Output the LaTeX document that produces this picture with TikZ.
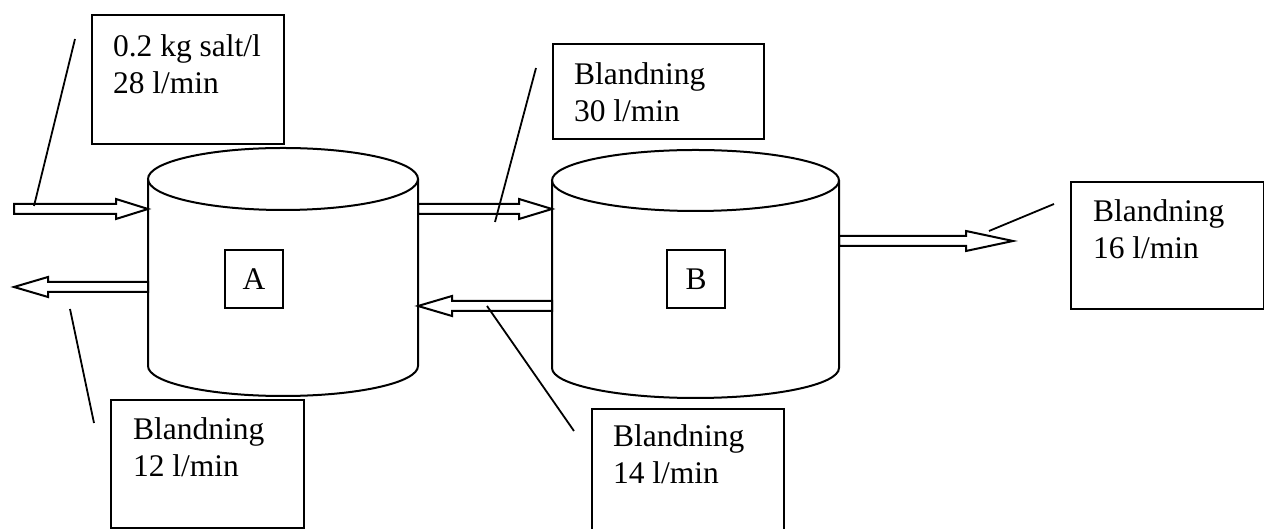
\documentclass[tikz,border=0pt]{standalone}
\usepackage{fontspec}
\setmainfont{Liberation Serif}
\usetikzlibrary{calc}
\newcommand\flowarr[3]{%
  \draw[flow] ($(#1)+(0,5)$) -- ($(#2)+(#3,5)$) -- ($(#2)+(#3,10)$) -- (#2)
    -- ($(#2)+(#3,-10)$) -- ($(#2)+(#3,-5)$) -- ($(#1)+(0,-5)$) -- cycle;}
\begin{document}
\begin{tikzpicture}[x=1pt,y=1pt, line width=2pt,
  lbox/.style={draw, rectangle, inner sep=0pt, anchor=north west},
  ltext/.style={anchor=north west, inner sep=0pt, align=left, font=\fontsize{31.5}{37}\selectfont},
  tag/.style={draw, minimum width=58pt, minimum height=58pt, inner sep=0pt, font=\fontsize{31.5}{37}\selectfont},
  leader/.style={line width=1.8pt},
  flow/.style={line width=2pt},
  tank/.style={line width=2pt}]
\useasboundingbox (0,0) rectangle (1264,529);
\clip (-1,-1) rectangle (1265,530);

% tanks
\draw[tank] (283,350) ellipse [x radius=135pt, y radius=31pt];
\draw[tank] (148,350) -- (148,163) arc[start angle=180, end angle=360, x radius=135pt, y radius=30pt] -- (418,350);
\draw[tank] (695.5,348.5) ellipse [x radius=143.5pt, y radius=30.5pt];
\draw[tank] (552,348.5) -- (552,161) arc[start angle=180, end angle=360, x radius=143.5pt, y radius=30pt] -- (839,348.5);
\node[tag] (tagA) at (254,250) {A};
\node[tag] (tagB) at (696,250) {B};

% label boxes
\node[lbox, minimum width=192pt, minimum height=129pt] (b1) at (91,515) {};
\node[ltext] (t1) at (112,495) {0.2 kg salt/l\\28 l/min};
\node[lbox, minimum width=211pt, minimum height=95pt] (b30) at (552,486) {};
\node[ltext] (t30) at (573,467) {Blandning\\30 l/min};
\node[lbox, minimum width=193pt, minimum height=127pt] (b16) at (1070,348) {};
\node[ltext] (t16) at (1092,330) {Blandning\\16 l/min};
\node[lbox, minimum width=193pt, minimum height=128pt] (b12) at (110,130) {};
\node[ltext] (t12) at (132,112) {Blandning\\12 l/min};
\node[lbox, minimum width=192pt, minimum height=140pt] (b14) at (591,121) {};
\node[ltext] (t14) at (612,105) {Blandning\\14 l/min};

% flow arrows
\coordinate (inS) at (14,320);   \coordinate (inT) at (148,320);
\coordinate (abS) at (418,320);  \coordinate (abT) at (552,320);
\coordinate (baS) at (552,223);  \coordinate (baT) at (418,223);
\coordinate (aoS) at (148,242);  \coordinate (aoT) at (14,242);
\coordinate (boS) at (839,288);  \coordinate (boT) at (1013,288);
\flowarr{inS}{inT}{-32}
\flowarr{abS}{abT}{-33}
\flowarr{baS}{baT}{34}
\flowarr{aoS}{aoT}{34}
\flowarr{boS}{boT}{-47}

% leader lines
\coordinate (l1a) at (75,490);   \coordinate (l1b) at (34,323);
\coordinate (l12a) at (70,220);  \coordinate (l12b) at (94,106);
\coordinate (l30a) at (536,461); \coordinate (l30b) at (495,307);
\coordinate (l14a) at (487,223); \coordinate (l14b) at (574,98);
\coordinate (l16a) at (989,298); \coordinate (l16b) at (1054,325);
\draw[leader] (l1a) -- (l1b);
\draw[leader] (l12a) -- (l12b);
\draw[leader] (l30a) -- (l30b);
\draw[leader] (l14a) -- (l14b);
\draw[leader] (l16a) -- (l16b);
\end{tikzpicture}
\end{document}
